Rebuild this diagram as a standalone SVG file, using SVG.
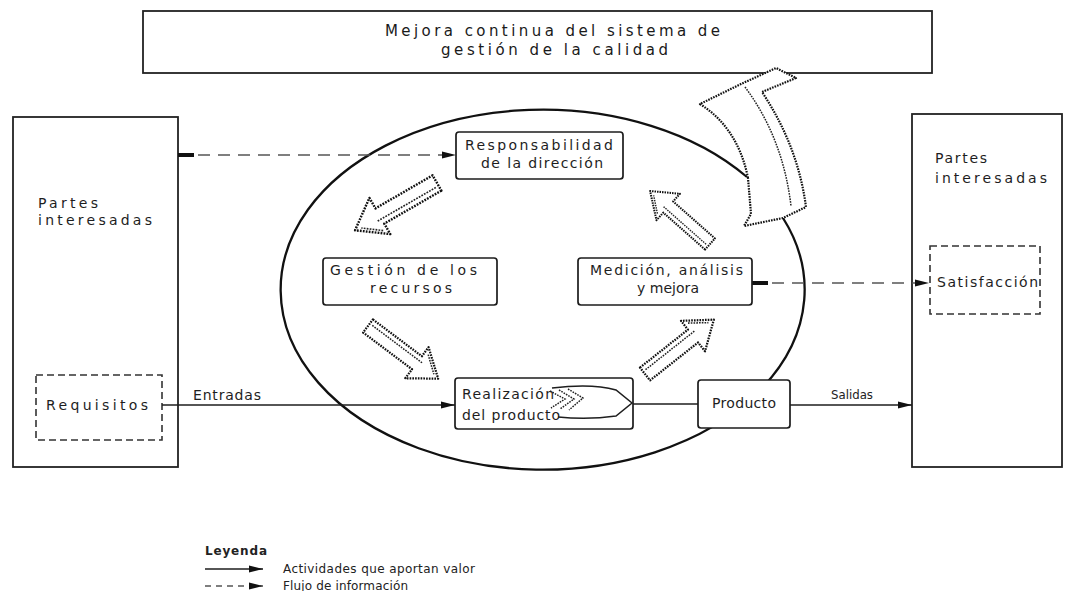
<svg xmlns="http://www.w3.org/2000/svg" xmlns:xlink="http://www.w3.org/1999/xlink" width="1066" height="591" viewBox="0 0 1066 591">
  <style>
    .box { fill: #fff; stroke: #1c1c1c; stroke-width: 1.7; }
    .panel { fill: #fff; stroke: #222; stroke-width: 1.8; }
    .dbox { fill: none; stroke: #333; stroke-width: 1.6; stroke-dasharray: 7 4; }
    .lbl { font-family: "DejaVu Sans", "Liberation Sans", sans-serif; font-size: 14px; fill: #1e1e1e; }
    .big { font-family: "DejaVu Sans", "Liberation Sans", sans-serif; font-size: 15px; fill: #1a1a1a; }
    .small { font-family: "DejaVu Sans", "Liberation Sans", sans-serif; font-size: 12px; fill: #222; }
    .bold { font-family: "DejaVu Sans", "Liberation Sans", sans-serif; font-size: 12px; font-weight: bold; fill: #222; }
    .flow { fill: none; stroke: #1e1e1e; stroke-width: 1.5; }
    .info { fill: none; stroke: #555; stroke-width: 1.5; stroke-dasharray: 12 8; }
    .hatch { fill: #fff; stroke: #111; stroke-width: 2.2; stroke-dasharray: 1.6 1.1; stroke-linejoin: round; }
    .hline { fill: none; stroke: #222; stroke-width: 1.5; stroke-dasharray: 1.6 1.1; }
    .ring { fill: none; stroke: #111; stroke-width: 2.3; }
  </style>
  <defs>
    <marker id="head" viewBox="0 0 14 8" markerWidth="14" markerHeight="8" refX="14" refY="4" orient="auto" markerUnits="userSpaceOnUse">
      <path d="M0,0.5 L14,4 L0,7.5 Z" fill="#111"/>
    </marker>
    <marker id="stub" viewBox="0 0 16 6" markerWidth="16" markerHeight="6" refX="0" refY="3" orient="auto" markerUnits="userSpaceOnUse">
      <rect x="0" y="1" width="16" height="4" fill="#111"/>
    </marker>
    <!-- shaded block arrow, pointing along +x, tail at origin -->
    <g id="arr3d">
      <path class="hatch" d="M0,-8 L60,-8 L60,-19 L86,0 L60,19 L60,8 L0,8 Z"/>
      <path class="hline" d="M3,-3 L64,-3 M64,-13 L80,-1"/>
    </g>
  </defs>

  <rect width="1066" height="591" fill="#fff"/>

  <!-- improvement banner -->
  <g id="mejora">
    <rect class="panel" x="143" y="11" width="789" height="62"/>
    <text class="big" x="385" y="36" textLength="335" lengthAdjust="spacing">Mejora continua del sistema de</text>
    <text class="big" x="441" y="55" textLength="227" lengthAdjust="spacing">gestión de la calidad</text>
  </g>

  <!-- customers side -->
  <g id="partes-izq">
    <rect class="panel" x="13" y="117" width="165" height="350"/>
    <text class="lbl" x="38" y="208" textLength="60" lengthAdjust="spacing">Partes</text>
    <text class="lbl" x="38" y="225" textLength="114" lengthAdjust="spacing">interesadas</text>
  </g>
  <g id="requisitos">
    <rect class="dbox" x="36" y="375" width="126" height="65"/>
    <text class="lbl" x="46" y="410" textLength="102" lengthAdjust="spacing">Requisitos</text>
  </g>

  <g id="partes-der">
    <rect class="panel" x="912" y="114" width="150" height="353"/>
    <text class="lbl" x="935" y="163" textLength="52" lengthAdjust="spacing">Partes</text>
    <text class="lbl" x="935" y="183" textLength="112" lengthAdjust="spacing">interesadas</text>
  </g>
  <g id="satisfaccion">
    <rect class="dbox" x="930" y="246" width="110" height="68"/>
    <text class="lbl" x="937" y="287" textLength="101" lengthAdjust="spacing">Satisfacción</text>
  </g>

  <!-- process loop -->
  <g id="ciclo">
    <path class="ring" d="M783,218 A262,180 0 1 1 747,177"/>
  </g>

  <!-- continual improvement arrow leaving the loop -->
  <g id="flecha-mejora">
    <path class="hatch" d="M748,178 Q738,128 700,104 L741,84 L776,68 L796,78 L762,92 Q798,146 806,207 L783,218 L744,226 L751,214 Z"/>
    <path class="hline" d="M745,87 Q783,138 791,206"/>
  </g>

  <g id="connectors">
    <!-- information flow -->
    <path class="info" d="M178,155 L456,155" marker-start="url(#stub)" marker-end="url(#head)"/>
    <path class="info" d="M752,283 L929,283" marker-start="url(#stub)" marker-end="url(#head)"/>
    <!-- value-adding activities -->
    <path class="flow" d="M162,405 L455,405" marker-end="url(#head)"/>
    <path class="flow" d="M633,404 L698,404"/>
    <path class="flow" d="M790,405 L912,405" marker-end="url(#head)"/>
    <!-- loop arrows between processes -->
    <use xlink:href="#arr3d" transform="translate(437,183) rotate(150) scale(1.1)"/>
    <use xlink:href="#arr3d" transform="translate(710,244) rotate(-138.5) scale(0.93)"/>
    <use xlink:href="#arr3d" transform="translate(368,326) rotate(36.9) scale(1.02)"/>
    <use xlink:href="#arr3d" transform="translate(645,374) rotate(-38.3) scale(1.02)"/>
  </g>

  <text class="lbl" x="193" y="400" textLength="68" lengthAdjust="spacing">Entradas</text>
  <text class="small" x="831" y="399" textLength="42" lengthAdjust="spacingAndGlyphs">Salidas</text>

  <g id="responsabilidad">
    <rect class="box" x="456" y="132" width="167" height="47" rx="3"/>
    <text class="lbl" x="465" y="150" textLength="148" lengthAdjust="spacing">Responsabilidad</text>
    <text class="lbl" x="481" y="168" textLength="122" lengthAdjust="spacing">de la dirección</text>
  </g>

  <g id="recursos">
    <rect class="box" x="323" y="258" width="174" height="47" rx="3"/>
    <text class="lbl" x="330" y="275" textLength="147" lengthAdjust="spacing">Gestión de los</text>
    <text class="lbl" x="370" y="293" textLength="82" lengthAdjust="spacing">recursos</text>
  </g>

  <g id="medicion">
    <rect class="box" x="578" y="258" width="174" height="47" rx="3"/>
    <text class="lbl" x="590" y="275" textLength="153" lengthAdjust="spacing">Medición, análisis</text>
    <text class="lbl" x="637" y="293" textLength="62" lengthAdjust="spacing">y mejora</text>
  </g>

  <g id="realizacion">
    <rect class="box" x="455" y="378" width="178" height="51" rx="3"/>
    <path class="flow" d="M552,388 Q592,383 616,390 L632,403 L616,416 Q588,420 558,417"/>
    <path class="hline" d="M550,391 L565,399 L551,408 M559,390 L574,399 L560,409 M568,389 L583,398 L569,410"/>
    <text class="lbl" x="462" y="399" textLength="92" lengthAdjust="spacing">Realización</text>
    <text class="lbl" x="462" y="420" textLength="98" lengthAdjust="spacing">del producto</text>
  </g>

  <g id="producto">
    <rect class="box" x="698" y="380" width="92" height="48" rx="3"/>
    <text class="lbl" x="712" y="408" textLength="64" lengthAdjust="spacing">Producto</text>
  </g>

  <!-- key -->
  <g id="leyenda">
    <text class="bold" x="205" y="555" textLength="62" lengthAdjust="spacing">Leyenda</text>
    <path class="flow" d="M205,569 L263,569" marker-end="url(#head)"/>
    <text class="small" x="283" y="573" textLength="192" lengthAdjust="spacing">Actividades que aportan valor</text>
    <path class="info" d="M205,586 L263,586" style="stroke-dasharray:6 5" marker-end="url(#head)"/>
    <text class="small" x="283" y="590" textLength="125" lengthAdjust="spacing">Flujo de información</text>
  </g>
</svg>
